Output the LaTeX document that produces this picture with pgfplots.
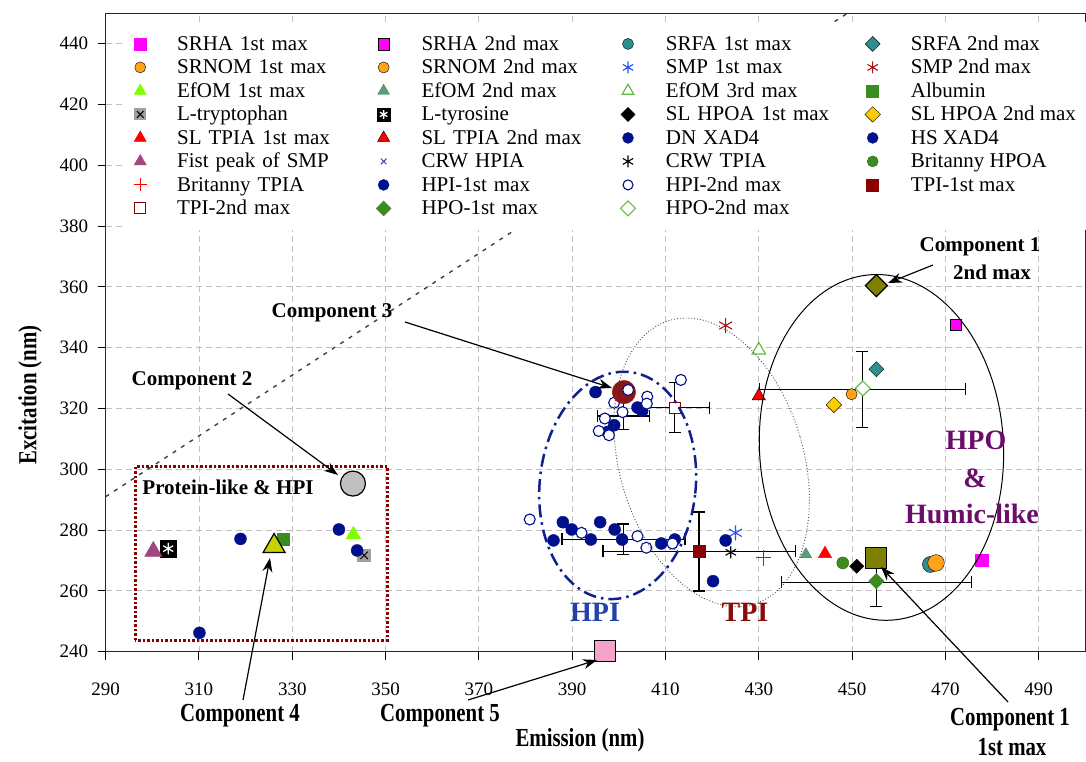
\documentclass[border=0pt]{standalone}
\usepackage{fontspec}
\setmainfont{Liberation Serif}
\usepackage{graphicx}
\usepackage{pgfplots}
\pgfplotsset{compat=1.18}
\usetikzlibrary{arrows.meta}

\definecolor{navyc}{RGB}{0,16,140}
\definecolor{magentac}{RGB}{255,0,255}
\definecolor{tealc}{RGB}{47,143,143}
\definecolor{orangec}{RGB}{255,163,26}
\definecolor{limec}{RGB}{128,255,0}
\definecolor{efomtwo}{RGB}{90,158,120}
\definecolor{efomthree}{RGB}{102,187,68}
\definecolor{albuminc}{RGB}{58,140,30}
\definecolor{goldc}{RGB}{255,204,0}
\definecolor{fistc}{RGB}{163,70,127}
\definecolor{greenc}{RGB}{60,140,30}
\definecolor{darkredc}{RGB}{139,0,0}
\definecolor{smpblue}{RGB}{40,80,255}
\definecolor{smpred}{RGB}{170,20,20}
\definecolor{crwblue}{RGB}{50,70,170}
\definecolor{olivec}{RGB}{128,128,0}
\definecolor{compgray}{RGB}{192,192,192}
\definecolor{compred}{RGB}{139,22,22}
\definecolor{compyel}{RGB}{195,212,0}
\definecolor{comppink}{RGB}{245,163,203}
\definecolor{hpitext}{RGB}{35,65,170}
\definecolor{tpitext}{RGB}{139,10,10}
\definecolor{hpotext}{RGB}{107,14,107}
\definecolor{hpiell}{RGB}{16,32,140}

\pgfdeclareplotmark{tyro}{%
  \pgfpathrectangle{\pgfpoint{-\pgfplotmarksize}{-\pgfplotmarksize}}{\pgfpoint{2\pgfplotmarksize}{2\pgfplotmarksize}}%
  \pgfusepathqfillstroke
  \pgfsetstrokecolor{white}%
  \pgfsetlinewidth{1.3pt}%
  \pgfpathmoveto{\pgfpoint{0pt}{-0.7\pgfplotmarksize}}\pgfpathlineto{\pgfpoint{0pt}{0.7\pgfplotmarksize}}%
  \pgfpathmoveto{\pgfpoint{-0.6\pgfplotmarksize}{-0.35\pgfplotmarksize}}\pgfpathlineto{\pgfpoint{0.6\pgfplotmarksize}{0.35\pgfplotmarksize}}%
  \pgfpathmoveto{\pgfpoint{-0.6\pgfplotmarksize}{0.35\pgfplotmarksize}}\pgfpathlineto{\pgfpoint{0.6\pgfplotmarksize}{-0.35\pgfplotmarksize}}%
  \pgfusepathqstroke
}
\pgfdeclareplotmark{tryp}{%
  \pgfpathrectangle{\pgfpoint{-\pgfplotmarksize}{-\pgfplotmarksize}}{\pgfpoint{2\pgfplotmarksize}{2\pgfplotmarksize}}%
  \pgfusepathqfill
  \pgfsetstrokecolor{black}%
  \pgfsetlinewidth{1pt}%
  \pgfpathmoveto{\pgfpoint{-0.55\pgfplotmarksize}{-0.55\pgfplotmarksize}}\pgfpathlineto{\pgfpoint{0.55\pgfplotmarksize}{0.55\pgfplotmarksize}}%
  \pgfpathmoveto{\pgfpoint{-0.55\pgfplotmarksize}{0.55\pgfplotmarksize}}\pgfpathlineto{\pgfpoint{0.55\pgfplotmarksize}{-0.55\pgfplotmarksize}}%
  \pgfusepathqstroke
}

\newcommand{\annot}{\fontsize{21}{23}\selectfont\bfseries}
\newcommand{\region}{\fontsize{28}{30}\selectfont\bfseries}
\newcommand{\cond}[1]{\scalebox{0.8}[1]{\fontsize{26}{28}\selectfont\bfseries #1}}

\begin{document}
\begin{tikzpicture}
\path[use as bounding box] (0pt,0pt) rectangle (1086pt,762pt);
\begin{axis}[
  at={(105.7pt,110.3pt)}, anchor=south west,
  scale only axis, width=979.6pt, height=638.4pt,
  xmin=290, xmax=500, ymin=240, ymax=450,
  xtick={290,310,...,490}, ytick={240,260,...,440},
  grid=major,
  major grid style={gray!50, line width=0.8pt, dash pattern=on 6pt off 4pt},
  tick align=outside, tick pos=left, major tick length=8pt,
  tick style={black, line width=1pt},
  axis line style={line width=1.3pt, black!85},
  ticklabel style={font=\fontsize{19}{19}\selectfont},
  /pgf/number format/assume math mode=true,
  xticklabel style={yshift=-20pt},
  yticklabel style={xshift=-6pt},
  clip=false,
  legend columns=4,
  legend cell align=left,
  legend style={
    at={(0.0182,0.9864)}, anchor=north west,
    draw=none, fill=white,
    inner xsep=10pt, inner ysep=10pt,
    font=\fontsize{21}{21}\selectfont,
    nodes={inner sep=2pt, text height=16pt, text depth=3.5pt},
    /tikz/every odd column/.style={column sep=28.4pt},
    /tikz/column 2/.style={nodes={text width=197pt}},
    /tikz/column 4/.style={nodes={text width=197pt}},
    /tikz/column 6/.style={nodes={text width=197pt}},
  },
  every axis plot/.append style={mark options={line width=0.9pt}},
]

% Ex = Em reference line
\addplot[forget plot, black!75, line width=1.4pt, dash pattern=on 4pt off 6pt] coordinates {(290,291) (449.5,450.5)};

% error bars (means +- sd)
\addplot[forget plot, only marks, mark=*, mark size=0.01pt, black,
  error bars/.cd, x dir=both, x explicit, y dir=both, y explicit,
  error bar style={line width=1.3pt, black},
  error mark=-,
  error mark options={rotate=90, black, line width=1.3pt, mark size=6pt}]
  coordinates {
  (401,317.5) +- (5.5,4.4)
  (401,277) +- (13.2,5)
  (412.0,320.3) +- (7.4,8.3)
  (417.2,273.0) +- (20.6,13)
  (452.2,326.3) +- (22.1,12.5)
  (455.2,262.8) +- (20.4,8)
  };

% ---- legend series (row-wise order) ----
\addplot[only marks, mark=square*, mark size=6.2pt, mark options={fill=magentac, draw=magentac}] coordinates {(477.8,270.1)};
\addlegendentry{SRHA 1st max}
\addplot[only marks, mark=square*, mark size=5.8pt, mark options={fill=magentac, draw=black}] coordinates {(472.2,347.6)};
\addlegendentry{SRHA 2nd max}
\addplot[only marks, mark=*, mark size=8pt, mark options={fill=tealc, draw=black}, legend image post style={mark size=5.5pt}] coordinates {(466.8,268.7)};
\addlegendentry{SRFA 1st max}
\addplot[only marks, mark=square*, mark size=5.3pt, mark options={fill=tealc, draw=black, rotate=45}] coordinates {(455.2,332.9)};
\addlegendentry{SRFA 2nd max}
\addplot[only marks, mark=*, mark size=8.3pt, mark options={fill=orangec, draw=black}, legend image post style={mark size=5.5pt}] coordinates {(468.0,269.2)};
\addlegendentry{SRNOM 1st max}
\addplot[only marks, mark=*, mark size=5.6pt, mark options={fill=orangec, draw=black}] coordinates {(449.9,324.7)};
\addlegendentry{SRNOM 2nd max}
\addplot[only marks, mark=asterisk, mark size=7.5pt, mark options={draw=smpblue, line width=1.1pt}, legend image post style={mark size=6pt}] coordinates {(425.0,279.1)};
\addlegendentry{SMP 1st max}
\addplot[only marks, mark=asterisk, mark size=7.5pt, mark options={draw=smpred, line width=1.1pt}, legend image post style={mark size=6pt}] coordinates {(422.9,347.3)};
\addlegendentry{SMP 2nd max}
\addplot[only marks, mark=triangle*, mark size=8.5pt, mark options={fill=limec, draw=limec}, legend image post style={mark size=7pt}] coordinates {(343.1,278.5)};
\addlegendentry{EfOM 1st max}
\addplot[only marks, mark=triangle*, mark size=6.7pt, mark options={fill=efomtwo, draw=efomtwo!80!black}] coordinates {(440.1,272.0)};
\addlegendentry{EfOM 2nd max}
\addplot[only marks, mark=triangle*, mark size=7.7pt, mark options={fill=white, draw=efomthree, line width=1.2pt}, legend image post style={mark size=6.7pt}] coordinates {(430.0,339.2)};
\addlegendentry{EfOM 3rd max}
\addplot[only marks, mark=square*, mark size=6pt, mark options={fill=albuminc, draw=albuminc}] coordinates {(328.0,277.1)};
\addlegendentry{Albumin}
\addplot[only marks, mark=tryp, mark size=6.7pt, mark options={fill=gray!75, draw=black}, legend image post style={mark size=6pt}] coordinates {(345.4,271.7)};
\addlegendentry{L-tryptophan}
\addplot[only marks, mark=tyro, mark size=8.3pt, mark options={fill=black, draw=black}, legend image post style={mark size=6.3pt}] coordinates {(303.4,273.9)};
\addlegendentry{L-tyrosine}
\addplot[only marks, mark=square*, mark size=5pt, mark options={fill=black, draw=black, rotate=45}] coordinates {(451.0,268.1)};
\addlegendentry{SL HPOA 1st max}
\addplot[only marks, mark=square*, mark size=5.5pt, mark options={fill=goldc, draw=black, rotate=45}] coordinates {(446.1,321.2)};
\addlegendentry{SL HPOA 2nd max}
\addplot[only marks, mark=triangle*, mark size=7.7pt, mark options={fill=red, draw=red}, legend image post style={mark size=7pt}] coordinates {(444.2,272.2)};
\addlegendentry{SL TPIA 1st max}
\addplot[only marks, mark=triangle*, mark size=7.7pt, mark options={fill=red, draw=black}, legend image post style={mark size=7pt}] coordinates {(430.0,324.1)};
\addlegendentry{SL TPIA 2nd max}
\addplot[only marks, mark=*, mark size=6pt, mark options={fill=navyc, draw=navyc}, legend image post style={mark size=5.5pt}] coordinates {(395.0,325.4)};
\addlegendentry{DN XAD4}
\addplot[only marks, mark=*, mark size=6pt, mark options={fill=navyc, draw=navyc}, legend image post style={mark size=5.5pt}] coordinates {(420.2,263.2)};
\addlegendentry{HS XAD4}
\addplot[only marks, mark=triangle*, mark size=10pt, mark options={fill=fistc, draw=fistc}, legend image post style={mark size=7pt}] coordinates {(300.2,273.0)};
\addlegendentry{Fist peak of SMP}
\addplot[only marks, mark=x, mark size=4pt, mark options={draw=crwblue, line width=1pt}] coordinates {(411.5,274.5)};
\addlegendentry{CRW HPIA}
\addplot[only marks, mark=asterisk, mark size=6pt, mark options={draw=black, line width=1.1pt}] coordinates {(424.0,272.7)};
\addlegendentry{CRW TPIA}
\addplot[only marks, mark=*, mark size=6pt, mark options={fill=greenc, draw=greenc!70!black}, legend image post style={mark size=5.5pt}] coordinates {(448.0,269.2)};
\addlegendentry{Britanny HPOA}
\addplot[only marks, mark=+, mark size=7.8pt, mark options={draw=red, line width=1.1pt}, legend image post style={mark size=6.5pt}] coordinates {(431.0,270.9)};
\addlegendentry{Britanny TPIA}
\addplot[only marks, mark=*, mark size=6pt, mark options={fill=navyc, draw=navyc}, legend image post style={mark size=5.5pt}] coordinates {
 (310.1,246.2) (318.9,277.1) (340.0,280.2) (343.9,273.3)
 (404.0,320.3) (405.0,319.2) (399.0,314.5) (397.6,312.3)
 (388.0,282.6) (389.9,280.2) (386.0,276.6) (394.0,276.9) (396.0,282.6)
 (399.1,280.2) (400.7,276.9) (409.1,275.6) (412.0,276.9) (422.9,276.6)};
\addlegendentry{HPI-1st max}
\addplot[only marks, mark=*, mark size=5.5pt, mark options={fill=white, draw=navyc, line width=1.1pt}, legend image post style={mark size=5pt}] coordinates {
 (406.1,323.9) (406.0,321.6) (399.0,321.9) (400.8,318.8)
 (397.0,316.7) (395.7,312.6) (397.9,311.2) (413.3,329.4)
 (380.9,283.5) (392.0,279.1) (404.0,278.0) (405.9,274.2) (411.5,275.6)};
\addlegendentry{HPI-2nd max}
\addplot[only marks, mark=square*, mark size=6pt, mark options={fill=darkredc, draw=darkredc}] coordinates {(417.2,273.0)};
\addlegendentry{TPI-1st max}
\addplot[only marks, mark=square*, mark size=5.5pt, mark options={fill=white, draw=darkredc, line width=1.1pt}] coordinates {(412.0,320.3)};
\addlegendentry{TPI-2nd max}
\addplot[only marks, mark=square*, mark size=5.3pt, mark options={fill=greenc, draw=greenc, rotate=45}] coordinates {(455.2,263.2)};
\addlegendentry{HPO-1st max}
\addplot[only marks, mark=square*, mark size=5.3pt, mark options={fill=white, draw=efomthree, line width=1.1pt, rotate=45}] coordinates {(452.3,326.6)};
\addlegendentry{HPO-2nd max}

% ---- PARAFAC components (not in legend) ----
\addplot[forget plot, only marks, mark=square*, mark size=7.8pt, mark options={fill=olivec, draw=black, line width=1.2pt, rotate=45}] coordinates {(455.2,360.4)};
\addplot[forget plot, only marks, mark=square*, mark size=10.5pt, mark options={fill=olivec, draw=black, line width=1.2pt}] coordinates {(455.1,270.9)};
\addplot[forget plot, only marks, mark=*, mark size=12.5pt, mark options={fill=compgray, draw=black, line width=1.2pt}] coordinates {(343.0,295.3)};
\addplot[forget plot, only marks, mark=*, mark size=11.7pt, mark options={fill=compred, draw=compred}] coordinates {(401.1,325.4)};
\addplot[forget plot, only marks, mark=triangle*, mark size=12.7pt, mark options={fill=compyel, draw=black, line width=1.2pt}] coordinates {(326.1,274.7)};
\addplot[forget plot, only marks, mark=square*, mark size=10.5pt, mark options={fill=comppink, draw=black, line width=1.2pt}] coordinates {(397.0,240.3)};
% points lying on top of the components
\addplot[forget plot, only marks, mark=*, mark size=5.5pt, mark options={fill=white, draw=navyc, line width=1.1pt}] coordinates {(402.0,326.1)};
\addplot[forget plot, only marks, mark=square*, mark size=5.3pt, mark options={fill=greenc, draw=greenc, rotate=45}] coordinates {(455.2,263.2)};

\coordinate (eHPI) at (axis cs:399.75,294.7);
\coordinate (eTPI) at (axis cs:419.9,302.3);
\coordinate (eHPO) at (axis cs:456.3,307.2);
\coordinate (boxA) at (axis cs:296.3,243.8);
\coordinate (boxB) at (axis cs:350.4,300.9);
\end{axis}

% region outlines
\draw[darkredc, line width=3pt, dash pattern=on 2.5pt off 2pt] (boxA) rectangle (boxB);
\draw[hpiell, line width=2.5pt, dash pattern=on 13pt off 5pt on 2.5pt off 5pt, shift={(eHPI)}, rotate=-6] (0,0) ellipse [x radius=78pt, y radius=114pt];
\draw[black!70, line width=0.9pt, dotted, shift={(eTPI)}, rotate=16.5] (0,0) ellipse [x radius=92pt, y radius=148pt];
\draw[black, line width=1pt, shift={(eHPO)}, rotate=3] (0,0) ellipse [x radius=122pt, y radius=173pt];

% annotations
\tikzset{arr/.style={black, line width=1.2pt, -{Stealth[length=14pt, width=10pt]}}}
\node[font=\annot] at (332pt,449pt) {Component 3};
\draw[arr] (405pt,440pt) -- (612pt,374pt);
\node[font=\annot] at (192pt,381pt) {Component 2};
\draw[arr] (228pt,368pt) -- (338pt,287pt);
\node[font=\annot] at (228pt,275pt) {Protein-like \& HPI};
\node at (240pt,46pt) {\cond{Component 4}};
\draw[arr] (243pt,62pt) -- (270pt,204pt);
\node at (440pt,46pt) {\cond{Component 5}};
\draw[arr] (468pt,62pt) -- (597pt,102pt);
\node at (1010pt,42pt) {\cond{Component 1}};
\node at (1012pt,15pt) {\cond{1st max}};
\draw[arr] (1008pt,60pt) -- (881pt,195pt);
\node[font=\annot] at (980pt,515pt) {Component 1};
\node[font=\annot] at (992pt,490pt) {2nd max};
\draw[arr] (933pt,497pt) -- (888pt,479pt);
\node[font=\region, text=hpitext] at (595pt,150pt) {HPI};
\node[font=\region, text=tpitext] at (745pt,150pt) {TPI};
\node[font=\region, text=hpotext] at (976pt,322pt) {HPO};
\node[font=\region, text=hpotext] at (975pt,284pt) {\&};
\node[font=\region, text=hpotext] at (972pt,248pt) {Humic-like};

% axis titles
\node at (580pt,22pt) {\cond{Emission (nm)}};
\node[rotate=90] at (30pt,367pt) {\cond{Excitation (nm)}};
\end{tikzpicture}
\end{document}
